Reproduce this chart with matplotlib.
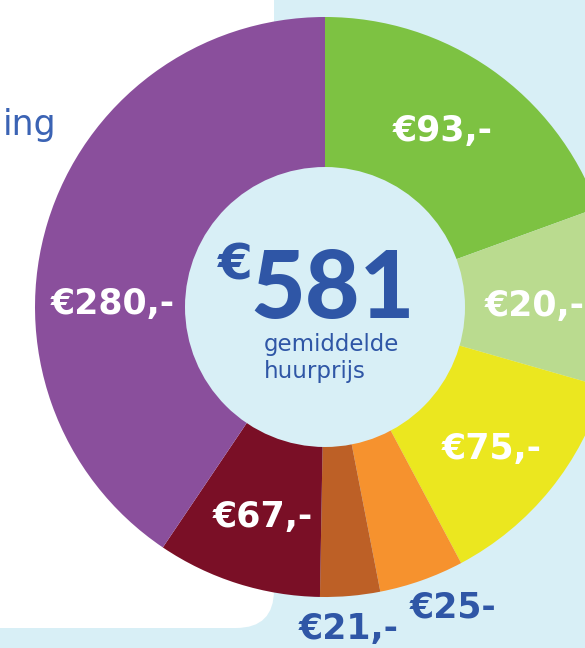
import matplotlib.pyplot as plt
from matplotlib.patches import Circle, FancyBboxPatch

# values shown on the chart (euro per month)
labels = ["€93,-", "€20,-", "€75,-", "€25-", "€21,-", "€67,-", "€280,-"]
amounts = [93, 20, 75, 25, 21, 67, 280]
# slice sizes as drawn in the infographic (degrees, not proportional)
slice_deg = [70, 36, 46, 17, 12, 33, 146]
colors = ["#7dc242", "#badb8f", "#ebe71f", "#f6922e", "#bd6026", "#7a0f26", "#8a4f9c"]
total = sum(amounts)

W, H = 585, 648
LIGHT = "#d8eff6"
BLUE = "#2f56a6"

fig = plt.figure(figsize=(W / 100, H / 100), dpi=100)
fig.patch.set_facecolor(LIGHT)
ax = fig.add_axes([0, 0, 1, 1])

# white panel on the left
ax.add_patch(FancyBboxPatch((-60, H - 628), 334, 720,
                            boxstyle="round,pad=0,rounding_size=38",
                            fc="white", ec="none", zorder=0))
ax.text(56, H - 135, "ing", ha="right", va="baseline", fontsize=25,
        color="#3b63b4", family="DejaVu Sans", fontweight="normal")

cx, cy = 325, H - 307
ax.pie(slice_deg, colors=colors, startangle=90, counterclock=False,
       radius=290, center=(cx, cy), frame=True,
       wedgeprops=dict(linewidth=0))
ax.set_xlim(0, W)
ax.set_ylim(0, H)
ax.set_aspect("equal")
ax.axis("off")
ax.add_patch(Circle((cx, cy), 140, fc=LIGHT, ec="none", zorder=3))

# slice labels
lab_pos = [(443, 131, "center"), (485, 306, "left"), (492, 449, "center"),
           (453, 608, "center"), (349, 629, "center"), (263, 517, "center"),
           (113, 304, "center")]
for txt, (x, y, ha) in zip(labels, lab_pos):
    c = BLUE if txt in ("€25-", "€21,-") else "white"
    ax.text(x, H - y, txt, ha=ha, va="center", fontsize=25, fontweight="bold",
            color=c, family="DejaVu Sans", zorder=5)

# centre text
ax.text(333, H - 318, str(total), ha="center", va="baseline", fontsize=68,
        fontweight="black", color=BLUE, family="Lato", zorder=5)
ax.text(235, H - 266, "€", ha="center", va="center", fontsize=36,
        fontweight="bold", color=BLUE, family="DejaVu Sans", zorder=5)
ax.text(264, H - 351, "gemiddelde", ha="left", va="baseline", fontsize=16.5,
        color=BLUE, family="DejaVu Sans", zorder=5)
ax.text(264, H - 378, "huurprijs", ha="left", va="baseline", fontsize=16.5,
        color=BLUE, family="DejaVu Sans", zorder=5)

fig.savefig("out.png", dpi=100, facecolor=LIGHT)
